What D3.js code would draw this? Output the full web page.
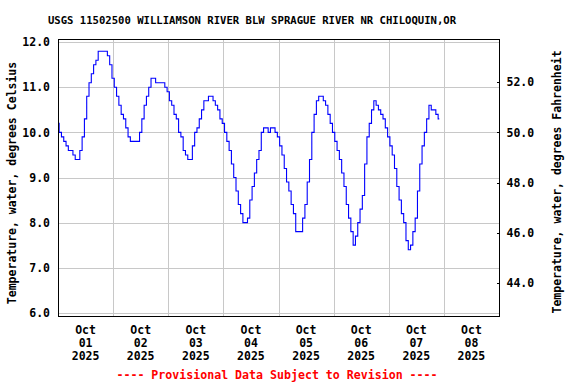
<!DOCTYPE html>
<meta charset="utf-8">
<style>
	body { margin: 0; background: #fff; }
	text { font-family: "DejaVu Sans Mono", monospace; font-weight: bold; fill: #000; }
	.grid line { stroke: #c8c8c8; stroke-width: 1; shape-rendering: crispEdges; }
	.axis .domain { display: none; }
	.axis line { stroke: #000; shape-rendering: crispEdges; }
	.frame { fill: none; stroke: #000; stroke-width: 1; shape-rendering: crispEdges; }
	.series { fill: none; stroke: #0000ff; stroke-width: 1.1; }
</style>
<body>
<script src="https://cdn.jsdelivr.net/npm/d3@7"></script>
<script>

	// hourly readings from Oct 01 2025 00:00, deg C
	var startTime = new Date(2025, 9, 1, 0, 0);
	var tempC = [
		10.2, 10.0, 9.9, 9.8, 9.7, 9.6, 9.6, 9.5, 9.4, 9.4, 9.6, 9.9,
		10.3, 10.8, 11.1, 11.3, 11.5, 11.6, 11.8, 11.8, 11.8, 11.8, 11.7, 11.5,
		11.2, 11.0, 10.8, 10.6, 10.4, 10.3, 10.1, 9.9, 9.8, 9.8, 9.8, 9.8,
		10.0, 10.3, 10.6, 10.8, 11.0, 11.2, 11.2, 11.1, 11.1, 11.1, 11.1, 11.0,
		10.9, 10.7, 10.6, 10.4, 10.3, 10.0, 9.9, 9.6, 9.5, 9.4, 9.4, 9.7,
		10.0, 10.1, 10.3, 10.5, 10.7, 10.7, 10.8, 10.8, 10.7, 10.6, 10.5, 10.3,
		10.2, 10.0, 9.8, 9.6, 9.3, 9.0, 8.7, 8.4, 8.2, 8.0, 8.0, 8.1,
		8.5, 8.8, 9.1, 9.4, 9.6, 10.0, 10.1, 10.1, 10.0, 10.1, 10.1, 10.0,
		9.9, 9.7, 9.5, 9.2, 8.9, 8.7, 8.4, 8.2, 7.8, 7.8, 7.8, 8.1,
		8.4, 8.9, 9.4, 10.0, 10.4, 10.7, 10.8, 10.8, 10.7, 10.6, 10.4, 10.2,
		10.0, 9.8, 9.6, 9.4, 9.1, 8.8, 8.4, 8.1, 7.8, 7.5, 7.7, 8.0,
		8.3, 8.6, 9.3, 9.9, 10.2, 10.5, 10.7, 10.6, 10.5, 10.4, 10.3, 10.1,
		9.9, 9.7, 9.5, 9.2, 8.8, 8.5, 8.2, 8.0, 7.6, 7.4, 7.5, 7.8,
		8.1, 8.7, 9.3, 9.7, 10.0, 10.3, 10.6, 10.5, 10.5, 10.4, 10.3
	];
	var celsiusTicks = [6, 7, 8, 9, 10, 11, 12];
	var fahrenheitTicks = [44, 46, 48, 50, 52];
	var dayLabels = ["01", "02", "03", "04", "05", "06", "07", "08"];
	var monthLabel = "Oct";
	var yearLabel = "2025";
	var title = "USGS 11502500 WILLIAMSON RIVER BLW SPRAGUE RIVER NR CHILOQUIN,OR";
	var leftLabel = "Temperature, water, degrees Celsius";
	var rightLabel = "Temperature, water, degrees Fahrenheit";
	var footer = "---- Provisional Data Subject to Revision ----";

	var width = 576,
		height = 384,
		plotLeft = 58, plotRight = 499, plotTop = 39, plotBottom = 316;

	var points = tempC.map(function(v, i) {
		return { t: d3.timeHour.offset(startTime, i), v: v };
	});

	var x = d3.scaleTime()
		.domain([startTime, d3.timeDay.offset(startTime, 8)])
		.range([plotLeft, plotRight]);

	var y = d3.scaleLinear()
		.domain([5.93, 12.07])
		.range([plotBottom, plotTop]);

	var yF = d3.scaleLinear()
		.domain(y.domain().map(function(c) { return c * 1.8 + 32; }))
		.range([plotBottom, plotTop]);

	var svg = d3.select("body").append("svg")
		.attr("width", width)
		.attr("height", height);

	svg.append("rect")
		.attr("width", width)
		.attr("height", height)
		.attr("fill", "#fff");

	// grid
	var grid = svg.append("g").attr("class", "grid");
	grid.selectAll(".h")
		.data(celsiusTicks)
		.enter().append("line")
			.attr("x1", plotLeft).attr("x2", plotRight)
			.attr("y1", function(d) { return Math.round(y(d)) + 0.5; })
			.attr("y2", function(d) { return Math.round(y(d)) + 0.5; });
	grid.selectAll(".v")
		.data(d3.timeDay.range(d3.timeDay.offset(startTime, 1), d3.timeDay.offset(startTime, 8)))
		.enter().append("line")
			.attr("y1", plotTop).attr("y2", plotBottom)
			.attr("x1", function(d) { return Math.round(x(d)) + 0.5; })
			.attr("x2", function(d) { return Math.round(x(d)) + 0.5; });

	// data line
	var line = d3.line()
		.curve(d3.curveStep)
		.x(function(d) { return x(d.t); })
		.y(function(d) { return y(d.v); });

	svg.append("path")
		.datum(points)
		.attr("class", "series")
		.attr("d", line);

	svg.append("rect")
		.attr("class", "frame")
		.attr("x", plotLeft + 0.5)
		.attr("y", plotTop + 0.5)
		.attr("width", plotRight - plotLeft)
		.attr("height", plotBottom - plotTop);

	// left axis
	svg.append("g")
		.attr("class", "axis")
		.attr("transform", "translate(" + plotLeft + ",0)")
		.call(d3.axisLeft(y).tickValues(celsiusTicks).tickFormat(d3.format(".1f")).tickSize(0).tickPadding(8))
		.selectAll("text")
			.style("font-size", "11.5px");

	// right axis, fahrenheit
	svg.append("g")
		.attr("class", "axis")
		.attr("transform", "translate(" + (plotRight + 0.5) + ",0)")
		.call(d3.axisRight(yF).tickValues(fahrenheitTicks).tickFormat(d3.format(".1f")).tickSizeInner(-3).tickSizeOuter(0).tickPadding(7))
		.selectAll("text")
			.style("font-size", "11.5px");

	// x labels at noon
	var noon = dayLabels.map(function(d, i) {
		return d3.timeHour.offset(d3.timeDay.offset(startTime, i), 12);
	});
	var xl = svg.append("g").selectAll("text")
		.data(noon)
		.enter().append("text")
			.attr("text-anchor", "middle")
			.style("font-size", "11.5px");
	xl.append("tspan").attr("x", function(d) { return x(d); }).attr("y", 334).text(monthLabel);
	xl.append("tspan").attr("x", function(d) { return x(d); }).attr("y", 347).text(function(d, i) { return dayLabels[i]; });
	xl.append("tspan").attr("x", function(d) { return x(d); }).attr("y", 360).text(yearLabel);

	// titles
	svg.append("text")
		.attr("x", 252).attr("y", 24)
		.attr("text-anchor", "middle")
		.style("font-size", "10.6px")
		.text(title);

	svg.append("text")
		.attr("transform", "translate(16,183)rotate(-90)")
		.attr("text-anchor", "middle")
		.style("font-size", "11.5px")
		.text(leftLabel);

	svg.append("text")
		.attr("transform", "translate(561,182)rotate(-90)")
		.attr("text-anchor", "middle")
		.style("font-size", "11.5px")
		.text(rightLabel);

	svg.append("text")
		.attr("x", 277).attr("y", 379)
		.attr("text-anchor", "middle")
		.style("font-size", "11.6px")
		.style("fill", "#ff0000")
		.text(footer);

</script>
</body>
</html>
